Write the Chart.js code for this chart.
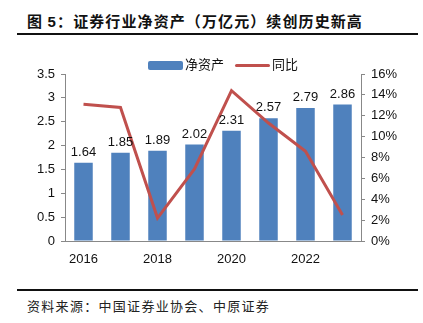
<!DOCTYPE html>
<html>
<head>
<meta charset="utf-8">
<script src="https://cdn.jsdelivr.net/npm/chart.js@4"></script>
<style>
  body { margin: 0; width: 423px; height: 323px; background: #fff; position: relative; overflow: hidden; }
  #title { position: absolute; left: 27px; top: 10px; font: bold 15px "Noto Sans CJK SC", sans-serif; letter-spacing: 1.1px; color: #111; white-space: nowrap; }
  #title .num { font-family: "Liberation Sans", Arial, sans-serif; }
  .rule { position: absolute; left: 17px; width: 401px; height: 2px; background: #111; }
  #source { position: absolute; left: 27px; top: 296px; font: 13px "Noto Sans CJK SC", sans-serif; letter-spacing: 1.3px; color: #222; white-space: nowrap; }
  #wrap { position: absolute; left: 0; top: 44px; width: 423px; height: 226px; }
  #legend { position: absolute; top: 55px; left: 148px; font: 13px "Noto Sans CJK SC", sans-serif; color: #111; white-space: nowrap; line-height: 18px; }
  #legend .sw { display: inline-block; width: 35px; vertical-align: middle; margin-right: 2px; }
  #legend .item { margin-right: 11px; }
</style>
</head>
<body>
<div id="title">图 <span class="num">5</span>：证券行业净资产（万亿元）续创历史新高</div>
<div class="rule" style="top:33px"></div>
<div id="wrap"><canvas id="c"></canvas></div>
<div id="legend"></div>
<div class="rule" style="top:289px"></div>
<div id="source">资料来源：中国证券业协会、中原证券</div>
<script>
const years = ["2016", "2017", "2018", "2019", "2020", "2021", "2022", "2023"];
const netAssets = [1.64, 1.85, 1.89, 2.02, 2.31, 2.57, 2.79, 2.86];
const yoy = [13.1, 12.8, 2.2, 6.9, 14.4, 11.3, 8.6, 2.5];

const tickFont = { family: "Liberation Sans, Arial, sans-serif", size: 13 };

const barLabels = {
  id: "barLabels",
  afterDatasetsDraw(chart) {
    const ctx = chart.ctx;
    const meta = chart.getDatasetMeta(0);
    ctx.save();
    ctx.font = "13px Liberation Sans, Arial, sans-serif";
    ctx.fillStyle = "#111";
    ctx.textAlign = "center";
    ctx.textBaseline = "bottom";
    meta.data.forEach((bar, i) => {
      ctx.fillText(netAssets[i].toFixed(2), bar.x, bar.y - 4);
    });
    ctx.restore();
  }
};

const chart = new Chart(document.getElementById("c"), {
  data: {
    labels: years,
    datasets: [
      {
        type: "bar",
        label: "净资产",
        data: netAssets,
        backgroundColor: "#4f81bd",
        yAxisID: "y",
        barPercentage: 0.5,
        categoryPercentage: 1,
        order: 2
      },
      {
        type: "line",
        label: "同比",
        data: yoy,
        borderColor: "#c0504d",
        backgroundColor: "#c0504d",
        borderWidth: 3,
        pointRadius: 0,
        tension: 0,
        yAxisID: "y1",
        order: 1
      }
    ]
  },
  options: {
    responsive: true,
    maintainAspectRatio: false,
    animation: false,
    layout: { padding: { top: 30, bottom: 0 } },
    plugins: {
      tooltip: { enabled: false },
      legend: { display: false }
    },
    scales: {
      x: {
        grid: { display: false },
        border: { color: "#888" },
        ticks: {
          font: tickFont,
          color: "#111",
          autoSkip: false,
          maxRotation: 0,
          callback: (v, i) => (i % 2 === 0 ? years[i] : "")
        },
        afterFit(s) { s.height = 29; }
      },
      y: {
        position: "left",
        min: 0,
        max: 3.5,
        grid: { display: true, drawOnChartArea: false, tickLength: 4, color: "#888" },
        border: { color: "#888" },
        ticks: { stepSize: 0.5, font: tickFont, color: "#111", padding: 6, callback: v => String(v) },
        afterFit(s) { s.width = 65; }
      },
      y1: {
        position: "right",
        min: 0,
        max: 16,
        grid: { display: true, drawOnChartArea: false, tickLength: 4, color: "#888" },
        border: { color: "#888" },
        ticks: { stepSize: 2, font: tickFont, color: "#111", padding: 6, callback: v => v + "%" },
        afterFit(s) { s.width = 62; }
      }
    }
  },
  plugins: [barLabels]
});

// legend built from the dataset labels and colours
document.getElementById("legend").innerHTML = chart.data.datasets.map(ds => {
  const h = ds.type === "bar" ? 9 : 3;
  return `<span class="item"><span class="sw" style="height:${h}px;background:${ds.type === "bar" ? ds.backgroundColor : ds.borderColor};border-radius:2px"></span>${ds.label}</span>`;
}).join("");
</script>
</body>
</html>
